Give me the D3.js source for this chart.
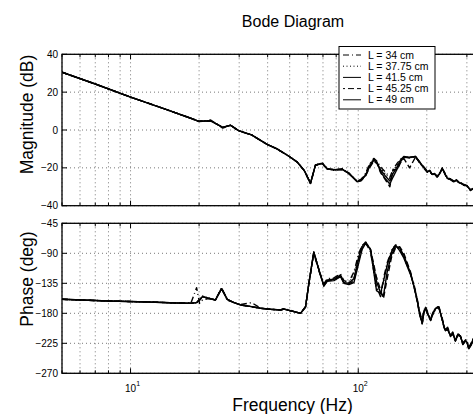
<!DOCTYPE html>
<html>
<head>
<meta charset="utf-8">
<script src="https://cdn.jsdelivr.net/npm/d3@7/dist/d3.min.js"></script>
<style>
  html, body { margin: 0; padding: 0; background: #fff; }
  svg { display: block; font-family: "Liberation Sans", Arial, sans-serif; }
</style>
</head>
<body>
<div id="chart"></div>
<script>
// Bode diagram, five beam lengths
const seriesNames = ['L = 34 cm', 'L = 37.75 cm', 'L = 41.5 cm', 'L = 45.25 cm', 'L = 49 cm'];
const seriesDash = ['6,3,1,3', '1,2.5', null, '6,3', null];

const magTicks = [40, 20, 0, -20, -40];
const phaseTicks = [-45, -90, -135, -180, -225, -270];
const freqLabels = [10, 100];

const magFreq = [5, 7, 10, 14, 18, 20, 22.5, 25.4, 27.5, 29.8, 34, 39.8, 44, 49.8, 54, 58, 61.7, 64.9, 69.5, 73.1,
  78.2, 85.1, 91, 99, 103, 107.7, 112, 117, 121, 125.3, 131, 137.7, 142, 148.4, 153, 158.5, 168, 178.5,
  190, 195, 200.8, 206, 211, 216, 222, 228, 233.8, 240, 246, 254, 263, 270, 277, 284, 291, 300, 311, 320, 330];

const mag34 = [30.5, 24.3, 17.4, 11.3, 6.6, 4.4, 5.3, 1.0, 2.6, -0.5, -2.6, -7.6, -10, -14, -17, -21.5, -28, -18.8, -17.4, -20.4,
  -21.3, -20.5, -23.2, -27, -26, -23, -18, -15, -16.5, -19.5, -22, -25, -21, -17.5, -15.5, -14.2, -14.8, -14.2,
  -19, -20.5, -22.3, -22, -23.8, -23.2, -24.5, -22.5, -20.6, -22.5, -25, -25.8, -27, -26.8, -28, -28, -29.3, -29.8, -31, -31.5, -33];
const mag3775 = [30.5, 24.3, 17.4, 11.3, 6.6, 4.6, 5.0, 1.3, 2.5, -0.3, -2.6, -7.6, -10, -14, -17, -21.5, -28.1, -18.6, -17.5, -20.5,
  -21.1, -20.6, -23, -27.2, -26.3, -23.5, -18.5, -15.3, -17, -20.3, -23, -26, -22, -18.5, -15.8, -14.1, -14.6, -14.1,
  -18.7, -20.2, -22.1, -21.7, -23.6, -23.1, -24.6, -22.8, -20.4, -22.8, -25.3, -25.9, -27.2, -26.6, -27.9, -28.2, -29.1, -29.6, -31.4, -31.2, -32.8];
const mag415 = [30.5, 24.3, 17.4, 11.3, 6.6, 4.6, 4.8, 1.4, 2.5, -0.3, -2.6, -7.6, -10, -14, -17, -21.5, -28.2, -18.5, -17.6, -20.6,
  -21, -20.8, -22.9, -27.3, -26.5, -23.8, -19, -15.5, -17.5, -21, -24, -27, -23, -19.4, -16, -14, -14.5, -14,
  -18.5, -20, -22, -21.5, -23.5, -23, -24.7, -23, -20.2, -23, -25.5, -26, -27.3, -26.5, -27.8, -28.3, -29, -29.5, -31.7, -31, -32.6];
const mag4525 = [30.5, 24.3, 17.4, 11.3, 6.6, 4.6, 4.8, 1.4, 2.5, -0.3, -2.6, -7.6, -10, -14, -17, -21.5, -28.3, -18.4, -17.7, -20.7,
  -20.8, -21, -22.7, -27.4, -26.8, -24.3, -20, -16.5, -17.8, -22.5, -26, -30, -21, -21, -17.5, -15, -20, -14.3,
  -18.2, -19.8, -21.8, -21.3, -23.3, -22.8, -24.9, -23.3, -20, -23.3, -25.7, -26.2, -27.5, -26.3, -27.6, -28.5, -28.8, -29.3, -32, -30.8, -32.3];
const mag49 = [30.5, 24.3, 17.4, 11.3, 6.6, 4.6, 4.8, 1.4, 2.5, -0.3, -2.6, -7.6, -10, -14, -17, -21.5, -28.2, -18.5, -17.6, -20.6,
  -21, -20.8, -22.9, -27.3, -26.6, -24, -19.5, -16, -17.2, -22, -25.5, -28.5, -25, -20.5, -17, -14.5, -14.4, -14,
  -18.4, -20, -22, -21.5, -23.5, -23, -24.7, -23, -20.2, -23, -25.5, -26, -27.3, -26.5, -27.8, -28.3, -29, -29.5, -31.7, -31, -32.6];

const phaseFreq = [5, 8, 12, 16, 18.4, 19.5, 20.1, 20.7, 22, 23.6, 25.1, 26.6, 28.5, 30.4, 34, 37.2, 41, 45.6, 47.1, 52.1,
  55.8, 58.7, 60.7, 63.8, 67.2, 70.6, 73.1, 78.2, 83.6, 86.5, 91, 95.7, 100.6, 104, 107.7, 113.2, 120.3, 125.3, 129, 134,
  140, 145.8, 152, 158.5, 169.7, 176, 181.5, 186, 191, 194, 197.6, 203, 208, 214, 220, 226, 232, 238, 241.7, 247,
  254, 260, 267, 274, 281, 288, 296, 301, 306, 314, 322, 330];

const phase34 = [-159, -161.5, -163, -164.5, -165, -141.5, -165, -160, -158, -160, -141.5, -160, -164, -167, -164, -172, -174, -175, -173, -177,
  -180, -171, -136, -90, -117, -136, -128, -127, -121, -131, -133, -118, -90, -78, -74, -88, -140, -155, -128, -104,
  -86, -78, -84, -94, -120, -138, -158, -177, -192, -176, -170, -181, -188, -176, -171, -170, -183, -198, -204, -201,
  -213, -208, -220, -211, -213, -224, -220, -222, -231, -224, -215, -221];
const phase3775 = [-159, -161.5, -163, -164.5, -165, -164, -158, -154, -157, -160, -142, -160, -164, -167.5, -170, -172.5, -174, -175, -173.5, -177.5,
  -180, -170, -134, -89, -116, -137, -129, -128, -122, -132, -134, -124, -92, -79, -73, -84, -143, -152, -134, -106,
  -86, -77, -85, -96, -121, -139, -159, -179, -194, -177, -171, -182, -189, -177, -171, -170, -184, -199, -205, -202,
  -214, -209, -220, -212, -214, -225, -220, -223, -232, -225, -215, -221];
const phase415 = [-159, -161.5, -163, -164.5, -165, -164, -160, -155, -157.5, -160, -143, -159, -164, -167.5, -170, -172.5, -174, -175, -173.5, -177.5,
  -180, -170, -135, -88, -115, -138, -130, -129, -122.5, -134, -135, -128, -95, -80, -73, -85, -146, -150, -132, -108,
  -88, -77.5, -86, -97, -122, -140, -160, -180, -195, -178, -172, -183, -190, -178, -172, -171, -185, -200, -206, -203,
  -214, -210, -221, -212, -214, -226, -221, -224, -233, -226, -216, -222];
const phase4525 = [-159, -161.5, -163, -164.5, -165, -164, -160, -155, -157.5, -160, -143, -159, -164, -167.5, -170, -172.5, -174, -175, -173.5, -177.5,
  -180, -170, -136, -89, -114, -139, -131, -130, -124, -134, -136, -132, -100, -82, -74, -84, -126, -145, -158, -128,
  -96, -82, -80, -90, -118, -141, -162, -182, -196, -180, -173, -184, -191, -179, -173, -172, -186, -201, -207, -204,
  -215, -211, -222, -213, -215, -227, -222, -225, -234, -227, -217, -223];
const phase49 = [-159, -161.5, -163, -164.5, -165, -164, -160, -155, -157.5, -160, -143, -159, -164, -167.5, -170, -172.5, -174, -175, -173.5, -177.5,
  -180, -170, -135, -88, -115, -139, -132, -131, -125, -135, -137, -134, -104, -84, -75, -84, -132, -150, -154, -118,
  -92, -80, -82, -93, -120, -141, -161, -181, -195, -179, -172, -183, -190, -178, -172, -171, -185, -200, -206, -203,
  -214, -210, -221, -212, -214, -226, -221, -224, -233, -226, -216, -222];

const magSeries = [mag34, mag3775, mag415, mag4525, mag49];
const phaseSeries = [phase34, phase3775, phase415, phase4525, phase49];

const width = 473, height = 414;
const svg = d3.select('#chart').append('svg')
  .attr('width', width).attr('height', height);

const x = d3.scaleLog().domain([5, 330]).range([62, 62 + 227.7 * Math.log10(330 / 5)]);
const yMag = d3.scaleLinear().domain([-40, 40]).range([205.7, 54.3]);
const yPh = d3.scaleLinear().domain([-270, -45]).range([373.3, 223.3]);

const gridTicks = x.ticks();

function panel(id, y, yTicks, freq, series) {
  const [top, bottom] = [y.range()[1], y.range()[0]];
  const left = x.range()[0], right = x.range()[1];
  const g = svg.append('g');

  svg.append('clipPath').attr('id', id)
    .append('rect').attr('x', left).attr('y', top)
    .attr('width', right - left).attr('height', bottom - top);

  // dotted grid
  g.selectAll('.vg').data(gridTicks).join('line')
    .attr('x1', d => x(d)).attr('x2', d => x(d))
    .attr('y1', top).attr('y2', bottom)
    .attr('stroke', '#555').attr('stroke-width', 0.8).attr('stroke-dasharray', '1,3');
  g.selectAll('.hg').data(yTicks).join('line')
    .attr('x1', left).attr('x2', right)
    .attr('y1', d => y(d)).attr('y2', d => y(d))
    .attr('stroke', '#555').attr('stroke-width', 0.8).attr('stroke-dasharray', '1,3');

  // curves
  const line = d3.line().x(d => x(d[0])).y(d => y(d[1]));
  g.append('g').attr('clip-path', `url(#${id})`)
    .selectAll('path').data(series).join('path')
    .attr('d', vals => line(vals.map((v, i) => [freq[i], v])))
    .attr('fill', 'none').attr('stroke', '#000')
    .attr('stroke-width', 1.4)
    .attr('stroke-linejoin', 'round')
    .attr('stroke-dasharray', (d, i) => seriesDash[i]);

  // box
  g.append('rect').attr('x', left).attr('y', top)
    .attr('width', right - left).attr('height', bottom - top)
    .attr('fill', 'none').attr('stroke', '#000').attr('stroke-width', 1.3);

  // tick marks on top and bottom (inward)
  gridTicks.forEach(t => {
    const len = freqLabels.includes(t) ? 5 : 3;
    g.append('line').attr('x1', x(t)).attr('x2', x(t)).attr('y1', bottom).attr('y2', bottom - len)
      .attr('stroke', '#000');
    g.append('line').attr('x1', x(t)).attr('x2', x(t)).attr('y1', top).attr('y2', top + len)
      .attr('stroke', '#000');
  });
  yTicks.forEach(t => {
    g.append('line').attr('x1', left).attr('x2', left + 5).attr('y1', y(t)).attr('y2', y(t))
      .attr('stroke', '#000');
  });

  // tick labels
  g.selectAll('.yl').data(yTicks).join('text')
    .attr('x', left - 4).attr('y', d => y(d) + 3.5)
    .attr('text-anchor', 'end').attr('font-size', 10)
    .text(d => d < 0 ? '\u2212' + Math.abs(d) : d);
  return g;
}

panel('clipMag', yMag, magTicks, magFreq, magSeries);
panel('clipPh', yPh, phaseTicks, phaseFreq, phaseSeries);

// frequency labels 10^1, 10^2
freqLabels.forEach(f => {
  const t = svg.append('text').attr('x', x(f) + 2).attr('y', 391.5)
    .attr('text-anchor', 'middle').attr('font-size', 10);
  t.append('tspan').text('10');
  t.append('tspan').attr('font-size', 7).attr('dy', -6).text(Math.round(Math.log10(f)));
});

// titles
svg.append('text').attr('x', 293).attr('y', 26.5).attr('text-anchor', 'middle')
  .attr('font-size', 16).text('Bode Diagram');
svg.append('text').attr('x', 292.5).attr('y', 410.5).attr('text-anchor', 'middle')
  .attr('font-size', 17.5).text('Frequency (Hz)');
svg.append('text').attr('transform', 'translate(32.5,114.5) rotate(-90)')
  .attr('text-anchor', 'middle').attr('font-size', 17.5).text('Magnitude (dB)');
svg.append('text').attr('transform', 'translate(32.5,279) rotate(-90)')
  .attr('text-anchor', 'middle').attr('font-size', 17.5).text('Phase (deg)');

// legend
const leg = svg.append('g');
leg.append('rect').attr('x', 339).attr('y', 46.5).attr('width', 96).attr('height', 62.5)
  .attr('fill', '#fff').attr('stroke', '#000').attr('stroke-width', 1);
seriesNames.forEach((name, i) => {
  const cy = 55 + i * 11.2;
  leg.append('line').attr('x1', 343).attr('x2', 361).attr('y1', cy).attr('y2', cy)
    .attr('stroke', '#000').attr('stroke-width', 1)
    .attr('stroke-dasharray', seriesDash[i])
    .attr('stroke-dashoffset', i === 3 ? 4 : 0);
  leg.append('text').attr('x', 368).attr('y', cy + 3.6).attr('font-size', 10.5).text(name);
});
</script>
</body>
</html>
